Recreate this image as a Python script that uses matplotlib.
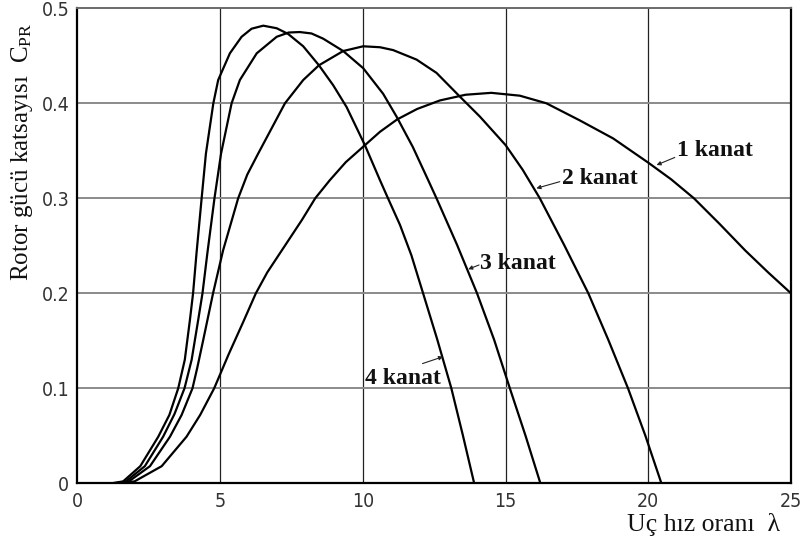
import numpy as np
import matplotlib
matplotlib.use("Agg")
import matplotlib.pyplot as plt

plt.rcParams['mathtext.fontset'] = 'custom'
plt.rcParams['mathtext.rm'] = 'Liberation Serif'

# Cp - lambda curves for rotors with 1..4 blades
lam_4 = [1.2, 1.6, 2.2, 2.83, 3.22, 3.53, 3.76, 3.94, 4.05, 4.17, 4.35, 4.5, 4.76, 4.93, 5.34,
         5.75, 6.1, 6.51, 6.98, 7.38, 7.91, 8.46, 8.96, 9.43, 10.07, 10.6, 10.88, 11.3, 11.7,
         12.11, 12.6, 13.1, 13.5, 13.9]
cp_4 = [0.0, 0.002, 0.018, 0.049, 0.072, 0.1, 0.13, 0.172, 0.2, 0.242, 0.3, 0.347, 0.4, 0.4245,
        0.4526, 0.47, 0.4785, 0.4817, 0.479, 0.473, 0.46, 0.44, 0.419, 0.396, 0.356, 0.319, 0.3,
        0.272, 0.24, 0.2, 0.152, 0.1, 0.051, 0.0]

lam_3 = [1.3, 1.7, 2.36, 3.0, 3.4, 3.75, 4.0, 4.23, 4.38, 4.55, 4.8, 5.03, 5.4, 5.69, 6.28,
         6.98, 7.4, 7.79, 8.2, 8.61, 9.31, 10.01, 10.71, 11.18, 11.75, 12.29, 12.58, 13.3, 14.0,
         14.6, 15.15, 15.7, 16.22]
cp_3 = [0.0, 0.002, 0.018, 0.049, 0.073, 0.1, 0.13, 0.172, 0.2, 0.242, 0.3, 0.347, 0.4, 0.4245,
        0.4526, 0.47, 0.4745, 0.475, 0.4735, 0.468, 0.455, 0.437, 0.41, 0.386, 0.354, 0.319, 0.3,
        0.251, 0.2, 0.151, 0.1, 0.05, 0.0]

lam_2 = [1.4, 1.8, 2.54, 3.24, 3.65, 4.03, 4.2, 4.4, 4.75, 5.1, 5.63, 5.95, 6.33, 7.27, 7.91,
         8.46, 9.31, 10.01, 10.6, 11.06, 11.88, 12.58, 13.4, 14.1, 15.0, 15.6, 16.2, 17.05, 17.9,
         18.6, 19.29, 19.9, 20.46]
cp_2 = [0.0, 0.002, 0.018, 0.049, 0.072, 0.1, 0.122, 0.15, 0.2, 0.245, 0.3, 0.325, 0.347, 0.4,
        0.4245, 0.44, 0.455, 0.46, 0.459, 0.456, 0.446, 0.432, 0.407, 0.386, 0.356, 0.33, 0.3,
        0.251, 0.2, 0.151, 0.1, 0.05, 0.0]

lam_1 = [1.5, 2.0, 2.95, 3.82, 4.3, 4.79, 5.3, 5.81, 6.25, 6.65, 7.09, 7.86, 8.33, 8.84, 9.4,
         10.0, 10.6, 11.2, 11.9, 12.7, 13.6, 14.5, 15.5, 16.43, 17.6, 18.77, 20.0, 20.8, 21.6,
         22.5, 23.4, 24.2, 25.0]
cp_1 = [0.0, 0.002, 0.018, 0.049, 0.072, 0.1, 0.136, 0.17, 0.2, 0.222, 0.242, 0.277, 0.3, 0.319,
        0.338, 0.354, 0.37, 0.383, 0.394, 0.403, 0.409, 0.411, 0.408, 0.4, 0.382, 0.363, 0.3375,
        0.32, 0.3, 0.273, 0.245, 0.222, 0.2]

curves = [(lam_1, cp_1), (lam_2, cp_2), (lam_3, cp_3), (lam_4, cp_4)]

# label text, text position, leader from label to curve
labels = ['1 kanat', '2 kanat', '3 kanat', '4 kanat']
label_xy = [(21.0, 0.35), (16.96, 0.321), (14.1, 0.2316), (10.07, 0.11)]
leader_start = [(20.93, 0.343), (16.9, 0.3175), (14.07, 0.2298), (12.09, 0.126)]
leader_end = [(20.29, 0.335), (16.08, 0.3105), (13.69, 0.2253), (12.81, 0.1333)]

xticks = [0, 5, 10, 15, 20, 25]
yticks = [0, 0.1, 0.2, 0.3, 0.4, 0.5]

fig = plt.figure(figsize=(8.03, 5.49), dpi=100)
ax = fig.add_axes([0.0965, 0.1197, 0.8885, 0.8652])

for lam, cp in curves:
    ax.plot(lam, cp, color='black', lw=1.6, solid_joinstyle='round',
            solid_capstyle='round', zorder=3)

ax.set_xlim(0, 25)
ax.set_ylim(0, 0.5)
ax.set_xticks(xticks)
ax.set_yticks(yticks)
ax.set_xticklabels([str(t) for t in xticks])
ax.set_yticklabels(['0', '0.1', '0.2', '0.3', '0.4', '0.5'])
ax.tick_params(length=0, pad=6, labelcolor='#333333')
for lbl in ax.get_xticklabels() + ax.get_yticklabels():
    lbl.set_fontfamily('DejaVu Sans')
    lbl.set_fontstretch('condensed')
    lbl.set_fontsize(14)

# grid: dark vertical lines, lighter horizontal ones
for x in xticks[1:-1]:
    ax.axvline(x, color='#222222', lw=0.9, zorder=1)
for y in yticks[1:-1]:
    ax.axhline(y, color='#8a8a8a', lw=1.4, zorder=1)

for side in ['left', 'bottom', 'right']:
    ax.spines[side].set_linewidth(1.6)
    ax.spines[side].set_color('black')
ax.spines['top'].set_linewidth(1.4)
ax.spines['top'].set_color('#6a6a6a')

for txt, (tx, ty), s, e in zip(labels, label_xy, leader_start, leader_end):
    ax.text(tx, ty, txt, family='Liberation Serif', fontsize=17, fontweight='bold',
            ha='left', va='center', color='#111111')
    ax.annotate('', xy=e, xytext=s,
                arrowprops=dict(arrowstyle='-|>', color='#222222', lw=0.8,
                                mutation_scale=6, shrinkA=0, shrinkB=0))

fig.text(0.0274, 0.723, r'Rotor gücü katsayısı  $\mathrm{C_{PR}}$', rotation=90,
         family='Liberation Serif', fontsize=18, ha='center', va='center', color='#111111')
fig.text(0.9714, 0.0455, 'Uç hız oranı  λ', family='Liberation Serif', fontsize=18.5,
         ha='right', va='center', color='#111111')

fig.savefig('out.png', dpi=100)
